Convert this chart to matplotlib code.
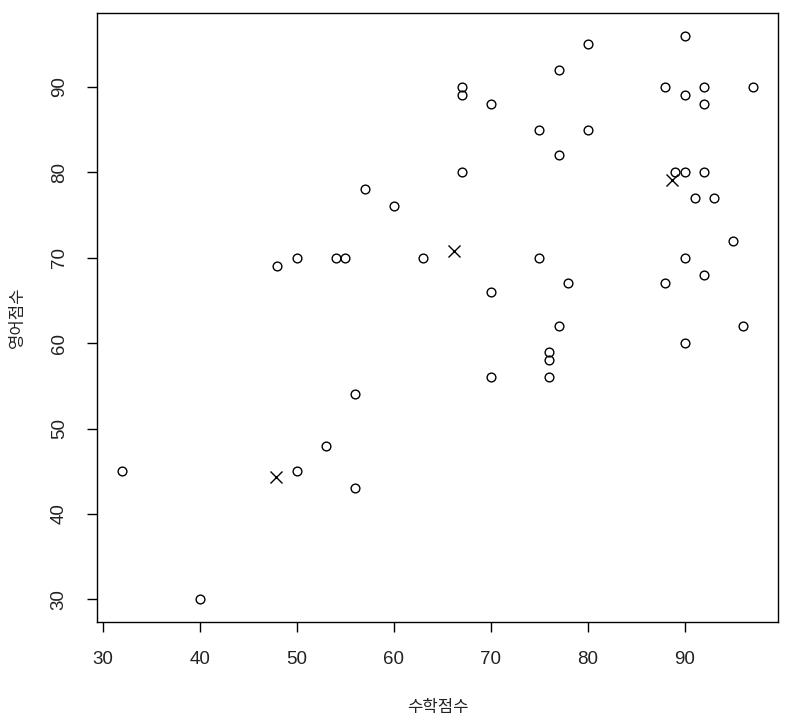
"""
Scatter of math vs English scores with k-means centres (R base-plot look).
"""

import matplotlib
matplotlib.use("Agg")
import matplotlib.pyplot as plt
from matplotlib import font_manager


math_scores = [90, 80, 77, 88, 92, 97, 67, 67, 90, 70, 92, 75, 80, 77, 67,
               89, 90, 92, 57, 91, 93, 60, 95, 50, 54, 55, 63, 75, 90, 48,
               92, 88, 78, 70, 77, 96, 90, 76, 76, 70, 76, 56, 53, 32, 50,
               56, 40]
english_scores = [96, 95, 92, 90, 90, 90, 90, 89, 89, 88, 88, 85, 85, 82, 80,
                  80, 80, 80, 78, 77, 77, 76, 72, 70, 70, 70, 70, 70, 70, 69,
                  68, 67, 67, 66, 62, 62, 60, 59, 58, 56, 56, 54, 48, 45, 45,
                  43, 30]

center_math = [66.2, 88.7, 47.9]
center_english = [70.8, 79.1, 44.3]

x_ticks = [30, 40, 50, 60, 70, 80, 90]
y_ticks = [30, 40, 50, 60, 70, 80, 90]


def main() -> None:
    names = {f.name for f in font_manager.fontManager.ttflist}
    tick_font = "Liberation Sans Narrow" if "Liberation Sans Narrow" in names else "Liberation Sans"
    tick_size = 15.5 if tick_font == "Liberation Sans Narrow" else 13.5

    fig = plt.figure(figsize=(7.92, 7.27), dpi=100)
    ax = fig.add_axes([97 / 792, 1 - 622 / 727, (778 - 97) / 792, (622 - 13) / 727])

    ax.plot(math_scores, english_scores, linestyle="none", marker="o",
            markersize=6.3, markerfacecolor="none", markeredgecolor="black",
            markeredgewidth=1.0)
    ax.plot(center_math, center_english, linestyle="none", marker="x",
            markersize=9, color="black", markeredgewidth=1.0)

    ax.set_xlim(29.4, 99.6)
    ax.set_ylim(27.36, 98.64)

    ax.set_xticks(x_ticks)
    ax.set_yticks(y_ticks)
    ax.tick_params(direction="out", length=7, width=1, pad=14, labelsize=tick_size)
    for lab in ax.get_yticklabels():
        lab.set_rotation(90)
        lab.set_va("center")
    for lab in ax.get_xticklabels() + ax.get_yticklabels():
        lab.set_family(tick_font)
        lab.set_color("#222222")
    for sp in ax.spines.values():
        sp.set_linewidth(1.0)

    ax.set_xlabel("수학점수", family="Noto Sans CJK KR", fontsize=12,
                  labelpad=22, color="#222222")
    ax.set_ylabel("영어점수", family="Noto Sans CJK KR", fontsize=12,
                  labelpad=18, color="#222222")

    fig.savefig("out.png", dpi=100)


if __name__ == "__main__":
    main()
